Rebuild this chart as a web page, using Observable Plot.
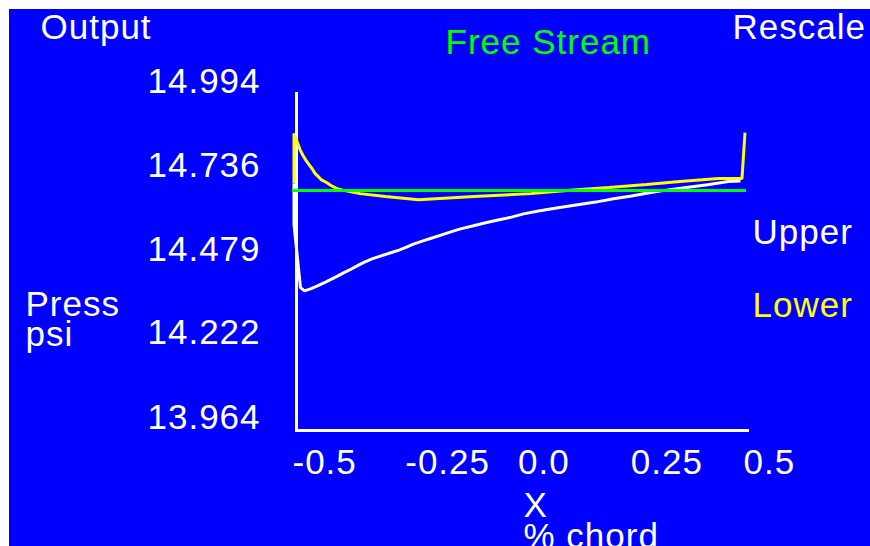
<!DOCTYPE html>
<html>
<head>
<meta charset="utf-8">
<script src="https://cdn.jsdelivr.net/npm/d3@7"></script>
<script src="https://cdn.jsdelivr.net/npm/@observablehq/plot@0.6"></script>
<style>
  html, body { margin: 0; padding: 0; background: #ffffff; overflow: hidden; }
  #wrap { position: absolute; left: 9px; top: 9px; width: 861px; height: 537px; background: #0000ff; }
  #wrap svg { display: block; }
  #wrap svg text { letter-spacing: 1px; }
</style>
</head>
<body>
<div id="wrap"></div>
<script>
// ---- data (x in fraction of chord, pressure in psi) ----
const upperX = [-0.500, -0.500, -0.4856, -0.4767, -0.4634, -0.4468, -0.4302, -0.4169, -0.4035, -0.3902,
  -0.3769, -0.357, -0.3437, -0.3271, -0.3071, -0.2871, -0.2672, -0.2506, -0.2339, -0.214,
  -0.194, -0.1741, -0.1541, -0.1308, -0.1042, -0.0776, -0.0477, -0.0177, 0.0089, 0.0421,
  0.0820, 0.1253, 0.1685, 0.2084, 0.2483, 0.2849, 0.3215, 0.3659, 0.4168, 0.4634, 0.4900];
const upperP = [14.715, 14.589, 14.396, 14.386, 14.392, 14.402, 14.413, 14.422, 14.431, 14.441,
  14.450, 14.465, 14.474, 14.484, 14.493, 14.502, 14.511, 14.520, 14.530, 14.539,
  14.548, 14.557, 14.566, 14.576, 14.585, 14.594, 14.603, 14.612, 14.622, 14.631,
  14.640, 14.649, 14.658, 14.668, 14.677, 14.686, 14.694, 14.702, 14.711, 14.721, 14.723];

const lowerX = [-0.500, -0.500, -0.4933, -0.4867, -0.4800, -0.4734, -0.4667, -0.4601, -0.4534, -0.4468,
  -0.4401, -0.4279, -0.4180, -0.4058, -0.3902, -0.3537, -0.2971, -0.2239, -0.1009, 0.0255,
  0.1120, 0.1984, 0.2816, 0.3559, 0.4412, 0.4933, 0.500];
const lowerP = [14.715, 14.868, 14.844, 14.819, 14.801, 14.786, 14.773, 14.761, 14.746, 14.737,
  14.727, 14.718, 14.709, 14.700, 14.694, 14.684, 14.675, 14.665, 14.675, 14.684,
  14.694, 14.703, 14.712, 14.721, 14.730, 14.730, 14.871];

const freeStream = [14.694];

const xTicks = [-0.5, -0.25, 0, 0.25, 0.5];
const xTickLabels = ["-0.5", "-0.25", "0.0", "0.25", "0.5"];
const yTicks = [14.994, 14.736, 14.479, 14.222, 13.964];
const yTickLabels = ["14.994", "14.736", "14.479", "14.222", "13.964"];

const upper = upperX.map((x, i) => ({x, p: upperP[i]}));
const lower = lowerX.map((x, i) => ({x, p: lowerP[i]}));

// ---- layout ----
const W = 861, H = 537;
const ML = 284.5, MR = 125.5, MT = 83, MB = 118;
const FONT = "'Liberation Sans', Arial, sans-serif";

// place a label by page pixel (left, baseline of last line) relative to the frame corner
function label(str, px, py, color, extra = {}) {
  return Plot.text([str], {
    text: d => d, frameAnchor: "top-left",
    dx: (px - 9) - ML, dy: (py - 9) - MT,
    textAnchor: "start", lineAnchor: "bottom",
    fill: color, fontSize: 35, ...extra
  });
}

const chart = Plot.plot({
  width: W, height: H,
  marginLeft: ML, marginRight: MR, marginTop: MT, marginBottom: MB,
  x: {domain: [-0.5, 0.5]},
  y: {domain: [13.964, 14.994]},
  style: {background: "#0000ff", color: "#ffffff", fontFamily: FONT, fontSize: "35px", overflow: "visible"},
  marks: [
    // axis lines
    Plot.ruleX([-0.4934], {y1: 14.994, y2: 13.955, stroke: "#ffffff", strokeWidth: 3, shapeRendering: "crispEdges"}),
    Plot.ruleY([13.9594], {x1: -0.4967, x2: 0.510, stroke: "#ffffff", strokeWidth: 3, shapeRendering: "crispEdges"}),
    // tick labels
    Plot.axisX(xTicks, {label: null, tickSize: 0, tickPadding: 0, tickFormat: d => xTickLabels[xTicks.indexOf(d)],
      textAnchor: "start", lineAnchor: "bottom", dx: -1.5, dy: 45, fontSize: 35, fill: "#ffffff"}),
    Plot.axisY(yTicks, {label: null, tickSize: 0, tickPadding: 0, tickFormat: d => yTickLabels[yTicks.indexOf(d)],
      textAnchor: "start", lineAnchor: "bottom", dx: 138 - ML, fontSize: 35, fill: "#ffffff"}),
    // curves
    Plot.line(upper, {x: "x", y: "p", stroke: "#ffffff", strokeWidth: 3, strokeLinecap: "butt", strokeLinejoin: "miter"}),
    Plot.line(lower, {x: "x", y: "p", stroke: "#ffff00", strokeWidth: 3, strokeLinecap: "butt", strokeLinejoin: "miter"}),
    Plot.ruleY(freeStream, {x1: -0.5033, x2: 0.5033, stroke: "#00ff00", strokeWidth: 3, shapeRendering: "crispEdges"}),
    // annotations
    label("Output", 40, 38, "#ffffff"),
    label("Free Stream", 445, 53, "#00ff00"),
    label("Rescale", 732, 38, "#ffffff"),
    label("Upper", 752, 243, "#ffffff"),
    label("Lower", 752, 316, "#ffff00"),
    label("Press\npsi", 25, 345, "#ffffff", {lineHeight: 0.83}),
    label("X\n% chord", 523, 547, "#ffffff", {lineHeight: 0.86})
  ]
});
document.getElementById("wrap").appendChild(chart);
</script>
</body>
</html>
